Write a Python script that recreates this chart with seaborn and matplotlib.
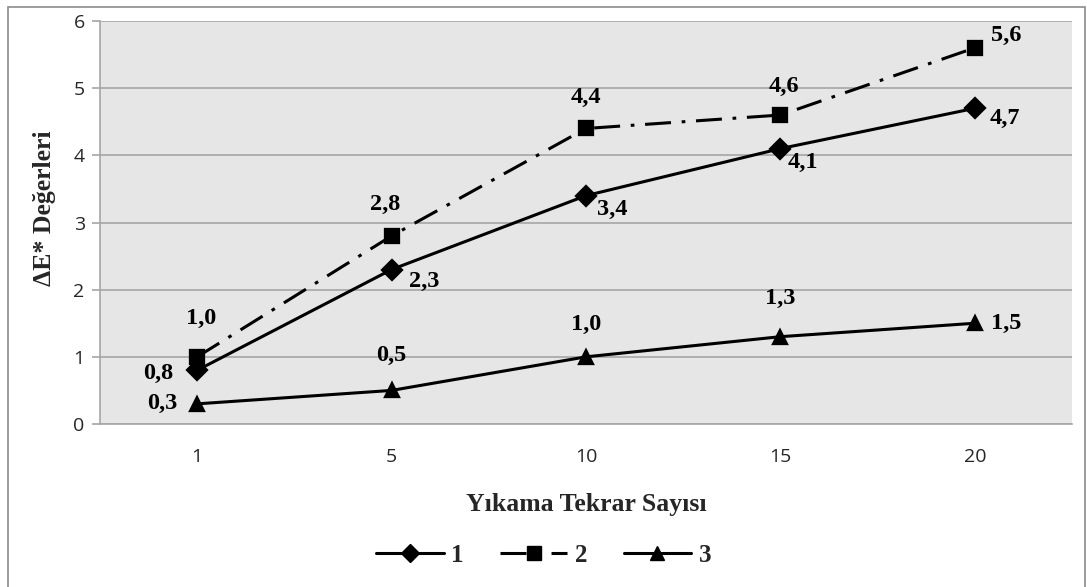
import matplotlib
matplotlib.use("Agg")
import matplotlib.pyplot as plt
from matplotlib.lines import Line2D
from matplotlib.patches import Rectangle
import seaborn as sns
import pandas as pd

# Wash repetition counts and colour difference values per series
tekrar = ["1", "5", "10", "15", "20"]
seri_1 = [0.8, 2.3, 3.4, 4.1, 4.7]
seri_2 = [1.0, 2.8, 4.4, 4.6, 5.6]
seri_3 = [0.3, 0.5, 1.0, 1.3, 1.5]
seri_adlari = ["1", "2", "3"]
y_ticks = [0, 1, 2, 3, 4, 5, 6]

df = pd.DataFrame({
    "tekrar": tekrar * 3,
    "deger": seri_1 + seri_2 + seri_3,
    "seri": [s for s in seri_adlari for _ in tekrar],
})

sns.set_theme(style="white")
plt.rcParams["font.family"] = ["Open Sans", "DejaVu Sans"]

fig = plt.figure(figsize=(10.87, 5.87), dpi=100)
ax = fig.add_axes([100 / 1087, 163 / 587, 972 / 1087, 403 / 587])
ax.set_facecolor("#e6e6e6")

dash_dot = (0, (8.5, 3.5, 1.2, 3.5))
markers = ["D", "s", "^"]
linestyles = ["-", dash_dot, "-"]

sns.pointplot(
    data=df, x="tekrar", y="deger", hue="seri", order=tekrar,
    hue_order=seri_adlari, palette=["black"] * 3, markers=markers,
    linestyles=linestyles, errorbar=None, legend=False, ax=ax,
    markersize=10.5, linewidth=2.2,
)

ax.set_xlim(-0.5, 4.5)
ax.set_ylim(0, 6)
ax.set_yticks(y_ticks)
ax.yaxis.grid(True, color="#a6a6a6", linewidth=1.2)
ax.xaxis.grid(False)
ax.set_axisbelow(True)
for side in ["top", "right"]:
    ax.spines[side].set_visible(False)
for side in ["left", "bottom"]:
    ax.spines[side].set_color("#a6a6a6")
    ax.spines[side].set_linewidth(1.2)
ax.tick_params(axis="y", length=6, width=1.2, color="#a6a6a6", labelsize=14, pad=5, left=True)
ax.tick_params(axis="x", length=0, labelsize=14, pad=17)

serif_bold = dict(family=["Liberation Serif", "DejaVu Serif"], weight="bold")
ax.set_ylabel("ΔE* Değerleri", fontsize=18.5, **serif_bold)
ax.yaxis.set_label_coords(-0.045, 0.536)
ax.set_xlabel("Yıkama Tekrar Sayısı", fontsize=18.5, labelpad=20, **serif_bold)

# Value labels, offsets in pixels relative to each marker
offsets = {
    "1": [(-39, -3), (33, -12), (26, -14), (22, -14), (30, -10)],
    "2": [(4, 38), (-6, 31), (0, 31), (3, 29), (31, 12)],
    "3": [(-35, 0), (0, 35), (0, 32), (0, 38), (31, 0)],
}
series_vals = {"1": seri_1, "2": seri_2, "3": seri_3}
for name in seri_adlari:
    for i, v in enumerate(series_vals[name]):
        dx, dy = offsets[name][i]
        ax.annotate(f"{v:.1f}".replace(".", ","), xy=(i, v), xytext=(dx, dy),
                    textcoords="offset pixels", ha="center", va="center",
                    fontsize=17.5, color="black", **serif_bold)

handles = [
    Line2D([], [], color="black", marker=m, linestyle=ls, linewidth=2.2, markersize=9.5)
    for m, ls in zip(markers, linestyles)
]
leg = fig.legend(handles, seri_adlari, loc="center", bbox_to_anchor=(0.5, 32 / 587),
                 ncol=3, frameon=False, handlelength=2.7, columnspacing=1.45,
                 handletextpad=0.3, prop=dict(family="Liberation Serif", weight="bold", size=18))

fig.patches.append(Rectangle((8 / 1087, -0.02), 1077 / 1087, 1.02 - 7 / 587,
                             transform=fig.transFigure, fill=False,
                             edgecolor="#8c8c8c", linewidth=1.2))

fig.savefig("out.png", dpi=100)
